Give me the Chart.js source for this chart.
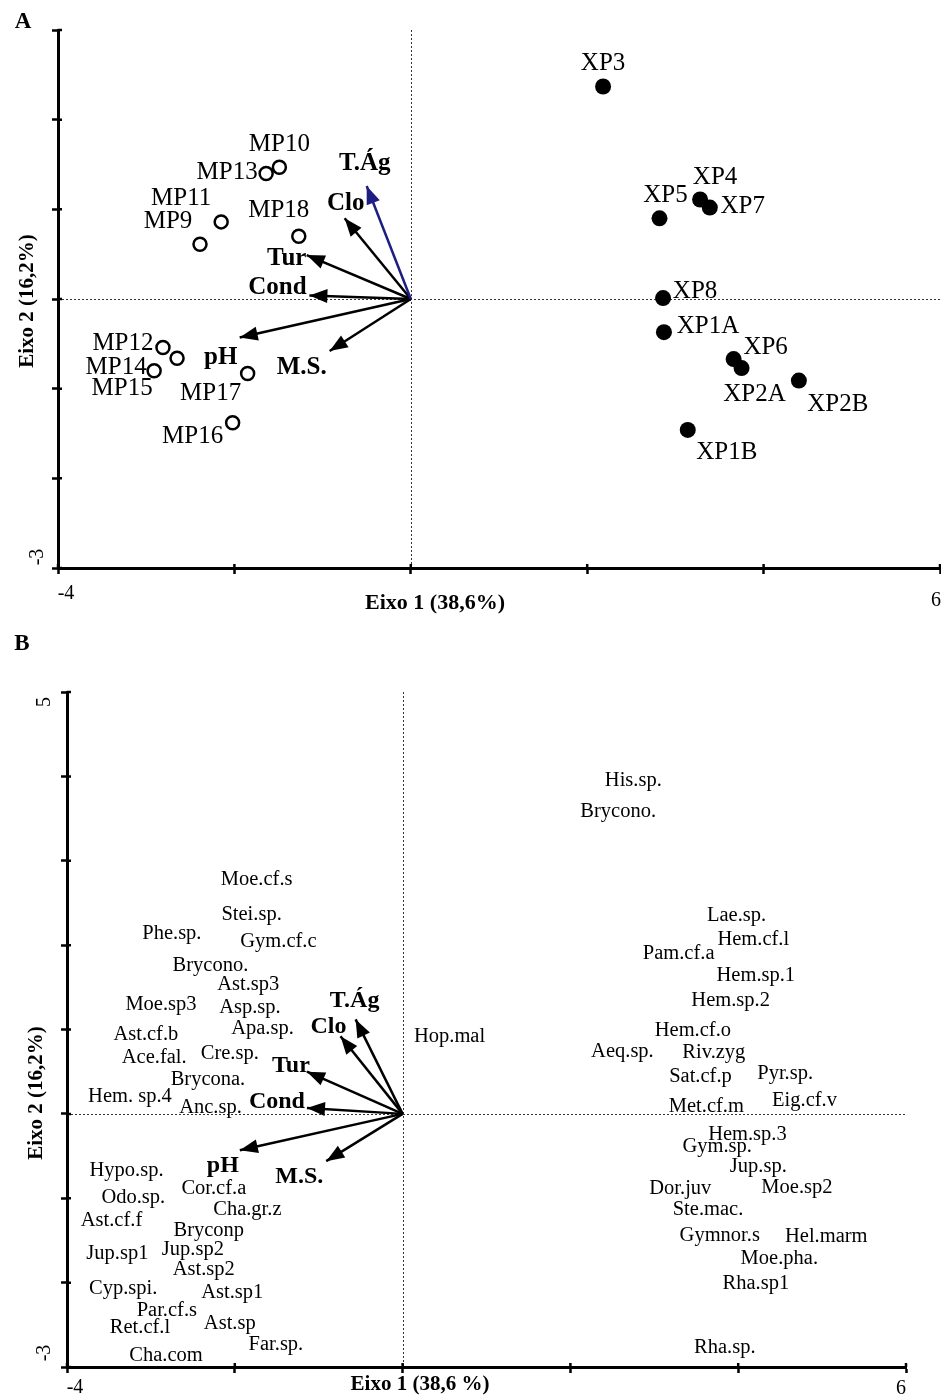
<!DOCTYPE html>
<html>
<head>
<meta charset="utf-8">
<script src="https://cdn.jsdelivr.net/npm/chart.js@4/dist/chart.umd.min.js"></script>
<style>
  body { margin: 0; background: #fff; }
  .panel { position: absolute; left: 0; width: 941px; }
  #wrapA { top: 0; height: 620px; }
  #wrapB { top: 620px; height: 779px; }
</style>
</head>
<body>
<div id="wrapA" class="panel"><canvas id="chartA"></canvas></div>
<div id="wrapB" class="panel"><canvas id="chartB"></canvas></div>
<script>
// ---- panel A: sampling sites ----
var mpNames = ["MP10", "MP13", "MP11", "MP9", "MP18", "MP12", "MP14", "MP15", "MP17", "MP16"];
var mpX = [-1.49, -1.64, -2.15, -2.39, -1.27, -2.81, -2.91, -2.65, -1.85, -2.02];
var mpY = [1.47, 1.40, 0.86, 0.61, 0.70, -0.54, -0.80, -0.66, -0.83, -1.38];

var xpNames = ["XP3", "XP4", "XP7", "XP5", "XP8", "XP1A", "XP6", "XP2A", "XP2B", "XP1B"];
var xpX = [2.18, 3.28, 3.39, 2.82, 2.86, 2.87, 3.66, 3.75, 4.40, 3.14];
var xpY = [2.37, 1.11, 1.02, 0.90, 0.01, -0.37, -0.67, -0.77, -0.91, -1.46];

// ---- environmental vectors ----
var envNames = ["T.Ág", "Clo", "Tur", "Cond", "pH", "M.S."];
var envXA = [-0.50, -0.75, -1.18, -1.15, -1.94, -0.92];
var envYA = [1.26, 0.90, 0.49, 0.04, -0.43, -0.58];
var envXB = [-0.56, -0.74, -1.14, -1.14, -1.94, -0.91];
var envYB = [1.12, 0.92, 0.50, 0.07, -0.43, -0.56];

// ---- panel B: species ----
var spNames = ["Moe.cf.s", "Stei.sp.", "Phe.sp.", "Gym.cf.c", "Brycono.", "Ast.sp3", "Moe.sp3", "Asp.sp.",
  "Ast.cf.b", "Apa.sp.", "Ace.fal.", "Cre.sp.", "Brycona.", "Hem. sp.4", "Anc.sp.", "Hypo.sp.",
  "Cor.cf.a", "Odo.sp.", "Cha.gr.z", "Ast.cf.f", "Bryconp", "Jup.sp2", "Jup.sp1", "Ast.sp2",
  "Cyp.spi.", "Ast.sp1", "Par.cf.s", "Ret.cf.l", "Ast.sp", "Far.sp.", "Cha.com", "Hop.mal",
  "His.sp.", "Brycono.", "Lae.sp.", "Hem.cf.l", "Pam.cf.a", "Hem.sp.1", "Hem.sp.2", "Hem.cf.o",
  "Aeq.sp.", "Riv.zyg", "Sat.cf.p", "Pyr.sp.", "Met.cf.m", "Eig.cf.v", "Hem.sp.3", "Gym.sp.",
  "Jup.sp.", "Dor.juv", "Moe.sp2", "Ste.mac.", "Gymnor.s", "Hel.marm", "Moe.pha.", "Rha.sp1", "Rha.sp."];
var spX = [-1.74, -1.80, -2.75, -1.48, -2.29, -1.84, -2.88, -1.82,
  -3.06, -1.67, -2.96, -2.06, -2.32, -3.25, -2.29, -3.29,
  -2.25, -3.21, -1.85, -3.47, -2.31, -2.50, -3.40, -2.37,
  -3.33, -2.03, -2.81, -3.13, -2.06, -1.51, -2.82, 0.56,
  2.75, 2.57, 3.98, 4.18, 3.29, 4.21, 3.91, 3.46,
  2.62, 3.71, 3.55, 4.56, 3.62, 4.79, 4.11, 3.75,
  4.24, 3.31, 4.70, 3.64, 3.78, 5.05, 4.49, 4.21, 3.84];
var spY = [2.78, 2.36, 2.14, 2.04, 1.76, 1.53, 1.30, 1.26,
  0.94, 1.01, 0.67, 0.72, 0.41, 0.21, 0.08, -0.67,
  -0.89, -0.99, -1.14, -1.26, -1.38, -1.61, -1.66, -1.84,
  -2.07, -2.12, -2.33, -2.53, -2.48, -2.74, -2.87, 0.92,
  3.95, 3.58, 2.35, 2.07, 1.90, 1.64, 1.34, 0.99,
  0.74, 0.73, 0.44, 0.48, 0.09, 0.16, -0.24, -0.39,
  -0.62, -0.88, -0.87, -1.13, -1.44, -1.45, -1.72, -2.01, -2.77];

// label offsets in pixels from each mark
var mpLabelOff = [[0, -23], [-39, -1], [-40, -23], [-32, -23], [-20, -26], [-40, -4], [-38, -3], [-55, 30], [-37, 20], [-40, 14]];
var xpLabelOff = [[0, -23], [15, -22], [33, -1], [6, -23], [32, -7], [44, -6], [32, -12], [13, 26], [39, 24], [39, 23]];
var envLabelOffA = [[-2, -22], [1, -15], [-20, 3], [-32, -8], [-19, 20], [-28, 17]];
var envLabelOffB = [[-1, -19], [-12, -9], [-16, -6], [-30, -6], [-17, 16], [-27, 16]];

var SERIF = '"Liberation Serif", "Times New Roman", serif';

function toPoints(xs, ys) {
  return xs.map(function (x, i) { return { x: x, y: ys[i] }; });
}

function arrowDatasets(xs, ys, names, offs, colors, font) {
  return xs.map(function (x, i) {
    return {
      data: [{ x: 0, y: 0 }, { x: x, y: ys[i] }],
      showLine: true,
      borderColor: colors[i],
      borderWidth: 2.5,
      pointRadius: 0,
      clip: false,
      arrow: true,
      labelNames: ['', names[i]],
      labelOffsets: [[0, 0], offs[i]],
      labelFont: font
    };
  });
}

function drawText(ctx, txt, x, y, font, align, rot) {
  ctx.save();
  ctx.translate(x, y);
  if (rot) ctx.rotate(rot);
  ctx.font = font;
  ctx.fillStyle = '#000';
  ctx.textAlign = align || 'center';
  ctx.textBaseline = 'middle';
  ctx.fillText(txt, 0, 0);
  ctx.restore();
}

var biplot = {
  id: 'biplot',
  beforeDatasetsDraw: function (chart) {
    var ctx = chart.ctx, a = chart.chartArea;
    var xs = chart.scales.x, ys = chart.scales.y;
    var x0 = Math.round(xs.getPixelForValue(0)) + 0.5;
    var y0 = Math.round(ys.getPixelForValue(0)) + 0.5;
    ctx.save();
    ctx.strokeStyle = '#333';
    ctx.lineWidth = 1;
    ctx.setLineDash([2, 2]);
    ctx.beginPath();
    ctx.moveTo(x0, a.top); ctx.lineTo(x0, a.bottom);
    ctx.moveTo(a.left, y0); ctx.lineTo(a.right, y0);
    ctx.stroke();
    // short inner part of the crossing tick marks
    ctx.setLineDash([]);
    ctx.strokeStyle = '#000';
    ctx.lineWidth = 2.5;
    ctx.beginPath();
    xs.ticks.forEach(function (t) {
      var px = xs.getPixelForValue(t.value);
      ctx.moveTo(px, a.bottom); ctx.lineTo(px, a.bottom - 4);
    });
    ys.ticks.forEach(function (t) {
      var py = ys.getPixelForValue(t.value);
      ctx.moveTo(a.left, py); ctx.lineTo(a.left + 4, py);
    });
    ctx.stroke();
    ctx.restore();
  },
  afterDatasetsDraw: function (chart, args, opts) {
    var ctx = chart.ctx;
    chart.data.datasets.forEach(function (ds, di) {
      var meta = chart.getDatasetMeta(di);
      if (ds.arrow) {
        var p0 = meta.data[0], p1 = meta.data[1];
        var ang = Math.atan2(p1.y - p0.y, p1.x - p0.x);
        var len = 18, hw = 7;
        ctx.save();
        ctx.fillStyle = ds.borderColor;
        ctx.beginPath();
        ctx.moveTo(p1.x, p1.y);
        ctx.lineTo(p1.x - len * Math.cos(ang) + hw * Math.sin(ang), p1.y - len * Math.sin(ang) - hw * Math.cos(ang));
        ctx.lineTo(p1.x - len * Math.cos(ang) - hw * Math.sin(ang), p1.y - len * Math.sin(ang) + hw * Math.cos(ang));
        ctx.closePath();
        ctx.fill();
        ctx.restore();
      }
      if (ds.labelNames) {
        meta.data.forEach(function (pt, i) {
          var name = ds.labelNames[i];
          if (!name) return;
          var off = ds.labelOffsets ? ds.labelOffsets[i] : [0, 0];
          drawText(ctx, name, pt.x + off[0], pt.y + off[1], ds.labelFont);
        });
      }
    });
    // tick labels, axis titles, panel letter
    opts.texts.forEach(function (t) {
      drawText(ctx, t.text, t.x, t.y, t.font, t.align, t.rot);
    });
  }
};

function makeOptions(cfg) {
  return {
    responsive: true,
    maintainAspectRatio: false,
    animation: false,
    layout: { padding: cfg.padding, autoPadding: false },
    plugins: {
      legend: { display: false },
      tooltip: { enabled: false },
      biplot: { texts: cfg.texts }
    },
    scales: {
      x: {
        type: 'linear', min: cfg.xMin, max: cfg.xMax,
        ticks: { stepSize: 2, display: false },
        grid: { drawOnChartArea: false, tickLength: 6, tickWidth: 2.5, tickColor: '#000' },
        border: { display: true, color: '#000', width: 3 },
        afterFit: function (s) { s.height = cfg.xAxisHeight; }
      },
      y: {
        type: 'linear', min: cfg.yMin, max: cfg.yMax,
        ticks: { stepSize: 1, display: false },
        grid: { drawOnChartArea: false, tickLength: 6, tickWidth: 2.5, tickColor: '#000' },
        border: { display: true, color: '#000', width: 3 },
        afterFit: function (s) { s.width = cfg.yAxisWidth; }
      }
    }
  };
}

var tickFont = '20px ' + SERIF;
var titleFontA = 'bold 22px ' + SERIF;
var titleFontB = 'bold 21px ' + SERIF;

// ---------- Panel A ----------
var dsA = arrowDatasets(envXA, envYA, envNames, envLabelOffA,
  ['#1e1e82', '#000', '#000', '#000', '#000', '#000'], 'bold 25px ' + SERIF);
dsA.push({
  data: toPoints(mpX, mpY),
  pointRadius: 6.5, pointBorderWidth: 2.5,
  pointBackgroundColor: '#fff', pointBorderColor: '#000',
  showLine: false, clip: false,
  labelNames: mpNames, labelOffsets: mpLabelOff, labelFont: '25px ' + SERIF
});
dsA.push({
  data: toPoints(xpX, xpY),
  pointRadius: 8, pointBorderWidth: 0,
  pointBackgroundColor: '#000', pointBorderColor: '#000',
  showLine: false, clip: false,
  labelNames: xpNames, labelOffsets: xpLabelOff, labelFont: '25px ' + SERIF
});

new Chart(document.getElementById('chartA'), {
  type: 'scatter',
  data: { datasets: dsA },
  options: makeOptions({
    xMin: -4, xMax: 6, yMin: -3, yMax: 3,
    padding: { top: 30, right: 1, left: 0, bottom: 0 },
    xAxisHeight: 52, yAxisWidth: 58,
    texts: [
      { text: 'A', x: 23, y: 22, font: 'bold 23px ' + SERIF },
      { text: '-4', x: 66, y: 594, font: tickFont },
      { text: '6', x: 941, y: 601, font: tickFont, align: 'right' },
      { text: '-3', x: 38, y: 557, font: tickFont, rot: -Math.PI / 2 },
      { text: 'Eixo 1 (38,6%)', x: 435, y: 603, font: titleFontA },
      { text: 'Eixo 2 (16,2%)', x: 28, y: 301, font: 'bold 21px ' + SERIF, rot: -Math.PI / 2 }
    ]
  }),
  plugins: [biplot]
});

// ---------- Panel B ----------
var dsB = arrowDatasets(envXB, envYB, envNames, envLabelOffB,
  ['#000', '#000', '#000', '#000', '#000', '#000'], 'bold 24px ' + SERIF);
dsB.push({
  data: toPoints(spX, spY),
  pointRadius: 0, showLine: false, clip: false,
  labelNames: spNames, labelFont: '20.5px ' + SERIF
});

new Chart(document.getElementById('chartB'), {
  type: 'scatter',
  data: { datasets: dsB },
  options: makeOptions({
    xMin: -4, xMax: 6, yMin: -3, yMax: 5,
    padding: { top: 72, right: 35, left: 0, bottom: 0 },
    xAxisHeight: 32, yAxisWidth: 67,
    texts: [
      { text: 'B', x: 22, y: 24, font: 'bold 23px ' + SERIF },
      { text: '-4', x: 75, y: 768, font: tickFont },
      { text: '6', x: 901, y: 769, font: tickFont },
      { text: '5', x: 45, y: 82, font: tickFont, rot: -Math.PI / 2 },
      { text: '-3', x: 45, y: 733, font: tickFont, rot: -Math.PI / 2 },
      { text: 'Eixo 1 (38,6 %)', x: 420, y: 765, font: titleFontB },
      { text: 'Eixo 2 (16,2%)', x: 37, y: 473, font: titleFontB, rot: -Math.PI / 2 }
    ]
  }),
  plugins: [biplot]
});
</script>
</body>
</html>
